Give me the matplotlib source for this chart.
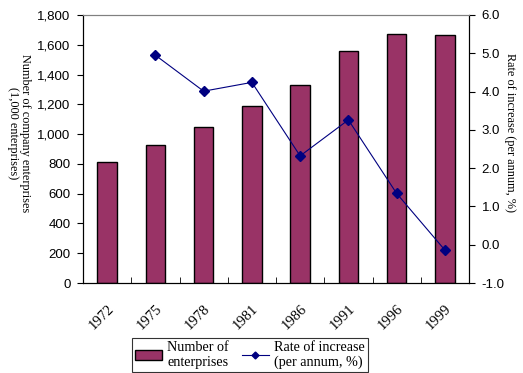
import matplotlib
matplotlib.use("Agg")
import matplotlib.pyplot as plt
import numpy as np
from matplotlib.lines import Line2D
from matplotlib.patches import Patch

years = ["1972", "1975", "1978", "1981", "1986", "1991", "1996", "1999"]
enterprises = [810, 925, 1048, 1187, 1327, 1556, 1672, 1666]
rate_years = ["1975", "1978", "1981", "1986", "1991", "1996", "1999"]
rate = [4.95, 4.01, 4.24, 2.32, 3.26, 1.34, -0.14]

bar_color = "#993366"
line_color = "#000080"
num_font = "Liberation Sans"
lab_font = "Liberation Serif"

fig = plt.figure(figsize=(5.23, 3.73), dpi=100)
ax = fig.add_axes([83/523, 1 - 283/373, (469-83)/523, (283-15)/373])
x = np.arange(len(years))
ax.bar(x, enterprises, width=0.4, color=bar_color, edgecolor="black", linewidth=1, zorder=2)
ax.set_xlim(-0.5, len(years) - 0.5)
ax.set_ylim(0, 1800)
ax.set_yticks(np.arange(0, 1801, 200))
ax.set_yticklabels([f"{v:,}" for v in range(0, 1801, 200)], fontfamily=num_font, fontsize=9.5)
ax.set_xticks(x)
ax.set_xticklabels(years, rotation=45, fontfamily=lab_font, fontsize=10.5, ha="right", va="top",
                   rotation_mode="anchor")
ax.tick_params(axis="x", length=0, pad=14)
ax.set_xticks(np.arange(-0.5, len(years)), minor=True)
ax.tick_params(axis="x", which="minor", length=4, direction="in")
ax.tick_params(axis="y", length=4, direction="out", width=0.8, pad=5)
for s in ["left", "bottom", "right"]:
    ax.spines[s].set_color("black")
ax.spines["top"].set_color("#808080")
ax.set_ylabel("Number of company enterprises\n(1,000 enterprises)", fontfamily=lab_font,
              fontsize=8.8, rotation=270, linespacing=1.0, va="center")
ax.yaxis.set_label_coords(-0.165, 0.56)

ax2 = ax.twinx()
rx = [years.index(y) for y in rate_years]
ax2.plot(rx, rate, color=line_color, linewidth=0.8, marker="D", markersize=5,
         markerfacecolor=line_color, markeredgecolor=line_color, zorder=3)
ax2.set_ylim(-1, 6)
ax2.set_yticks(np.arange(-1, 6.01, 1))
ax2.set_yticklabels([f"{v:.1f}" for v in np.arange(-1, 6.01, 1)], fontfamily=num_font, fontsize=9.5)
ax2.tick_params(axis="y", length=4, direction="out", width=0.8, pad=5)
ax2.spines["top"].set_color("#808080")
ax2.set_ylabel("Rate of increase (per annum, %)", fontfamily=lab_font, fontsize=8.8,
               rotation=270, va="center")
ax2.yaxis.set_label_coords(1.105, 0.56)

handles = [Patch(facecolor=bar_color, edgecolor="black", label="Number of\nenterprises"),
           Line2D([0], [0], color=line_color, linewidth=0.8, marker="D", markersize=3.5,
                  label="Rate of increase\n(per annum, %)")]
leg = fig.legend(handles=handles, loc="lower left", bbox_to_anchor=(132/523, 1/373),
                 ncol=2, frameon=True, fancybox=False, edgecolor="black",
                 prop={"family": lab_font, "size": 10.2}, handlelength=1.9, handletextpad=0.4,
                 columnspacing=0.9, borderpad=0.2, labelspacing=0.1, borderaxespad=0)
leg.get_frame().set_linewidth(0.8)

fig.savefig("out.png", dpi=100)
